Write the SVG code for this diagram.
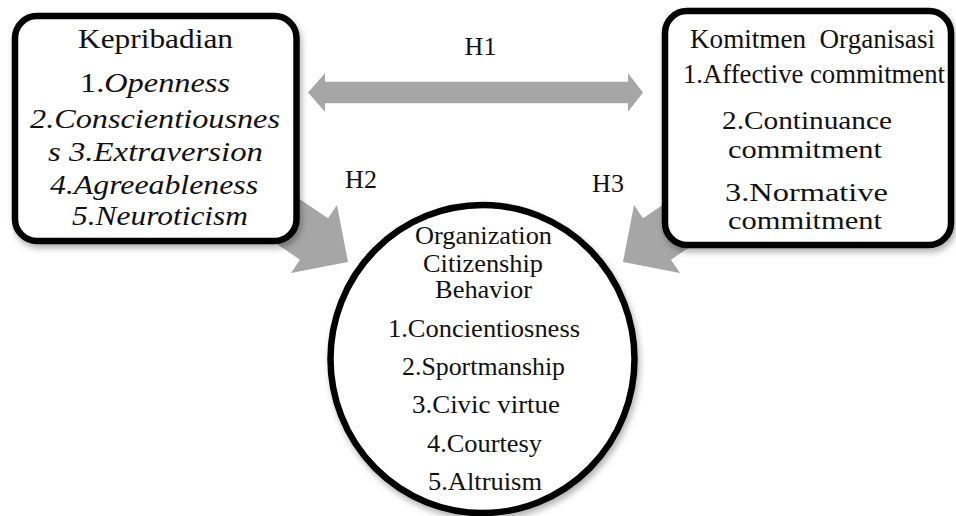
<svg xmlns="http://www.w3.org/2000/svg" width="956" height="516" viewBox="0 0 956 516">
<style>
  .arrow { fill: #a6a6a6; stroke: none; }
  .box { fill: #ffffff; stroke: #000000; stroke-width: 6.5; }
  .t { font-family: "Liberation Serif", "Times New Roman", serif; fill: #111111; text-anchor: middle; }
  .lb { font-size: 28px; }
  .rb { font-size: 26.5px; }
  .rs { font-size: 25px; }
  .cb { font-size: 26px; }
  .h { font-size: 26px; }
  .it { font-style: italic; }
</style>
<defs>
  <filter id="shadow" x="-10%" y="-10%" width="125%" height="125%">
    <feDropShadow dx="2" dy="4" stdDeviation="3" flood-color="#000000" flood-opacity="0.3"/>
  </filter>
</defs>
<rect width="956" height="516" fill="#ffffff"/>

<g id="connectors">
  <polygon id="h1-arrow" class="arrow" points="308,92.5 325,73.3 325,81.7 628,81.7 628,73.3 643,92.5 628,111.7 628,103.3 325,103.3 325,111.7"/>
  <polygon id="h2-arrow" class="arrow" points="261.7,173.4 328,218.3 337,205 348,262 291,273 300,259.7 233.7,214.8"/>
  <polygon id="h3-arrow" class="arrow" points="709.3,173.4 643,218.3 634,205 623,262 680,273 671,259.7 737.3,214.8"/>
  <text class="t h" x="480.5" y="55">H1</text>
  <text class="t h" x="361" y="188">H2</text>
  <text class="t h" x="608" y="192">H3</text>
</g>

<g id="kepribadian">
  <rect class="box" x="15" y="16" width="281.5" height="225" rx="22" ry="22" filter="url(#shadow)"/>
  <text class="t lb" x="155.5" y="48" textLength="155" lengthAdjust="spacingAndGlyphs">Kepribadian</text>
  <text class="t lb" x="155" y="92" textLength="150" lengthAdjust="spacingAndGlyphs">1.<tspan class="it">Openness</tspan></text>
  <text class="t lb it" x="155" y="128" textLength="250" lengthAdjust="spacingAndGlyphs">2.Conscientiousnes</text>
  <text class="t lb it" x="155.5" y="161" textLength="215" lengthAdjust="spacingAndGlyphs">s 3.Extraversion</text>
  <text class="t lb it" x="154" y="194" textLength="208" lengthAdjust="spacingAndGlyphs">4.Agreeableness</text>
  <text class="t lb it" x="160" y="225" textLength="176" lengthAdjust="spacingAndGlyphs">5.Neuroticism</text>
</g>

<g id="komitmen">
  <rect class="box" x="665" y="11" width="286" height="234" rx="22" ry="22" filter="url(#shadow)"/>
  <text class="t rb" x="812.5" y="47.7" textLength="245" lengthAdjust="spacingAndGlyphs" xml:space="preserve">Komitmen  Organisasi</text>
  <text class="t rb" x="814" y="83.3" textLength="262" lengthAdjust="spacingAndGlyphs">1.Affective commitment</text>
  <text class="t rs" x="807" y="129" textLength="170" lengthAdjust="spacingAndGlyphs">2.Continuance</text>
  <text class="t rs" x="805" y="158" textLength="154" lengthAdjust="spacingAndGlyphs">commitment</text>
  <text class="t rs" x="806.5" y="201" textLength="163" lengthAdjust="spacingAndGlyphs">3.Normative</text>
  <text class="t rs" x="805" y="229" textLength="154" lengthAdjust="spacingAndGlyphs">commitment</text>
</g>

<g id="ocb">
  <ellipse class="box" cx="482.5" cy="359" rx="152" ry="154" stroke-width="5.5" filter="url(#shadow)"/>
  <text class="t cb" x="483.5" y="244" textLength="137" lengthAdjust="spacingAndGlyphs">Organization</text>
  <text class="t cb" x="483" y="271.5" textLength="120" lengthAdjust="spacingAndGlyphs">Citizenship</text>
  <text class="t cb" x="483.5" y="298" textLength="97" lengthAdjust="spacingAndGlyphs">Behavior</text>
  <text class="t cb" x="484" y="337" textLength="192" lengthAdjust="spacingAndGlyphs">1.Concientiosness</text>
  <text class="t cb" x="483.5" y="375" textLength="163" lengthAdjust="spacingAndGlyphs">2.Sportmanship</text>
  <text class="t cb" x="486" y="413" textLength="148" lengthAdjust="spacingAndGlyphs">3.Civic virtue</text>
  <text class="t cb" x="484.5" y="451.5" textLength="115" lengthAdjust="spacingAndGlyphs">4.Courtesy</text>
  <text class="t cb" x="485" y="490" textLength="114" lengthAdjust="spacingAndGlyphs">5.Altruism</text>
</g>
</svg>
